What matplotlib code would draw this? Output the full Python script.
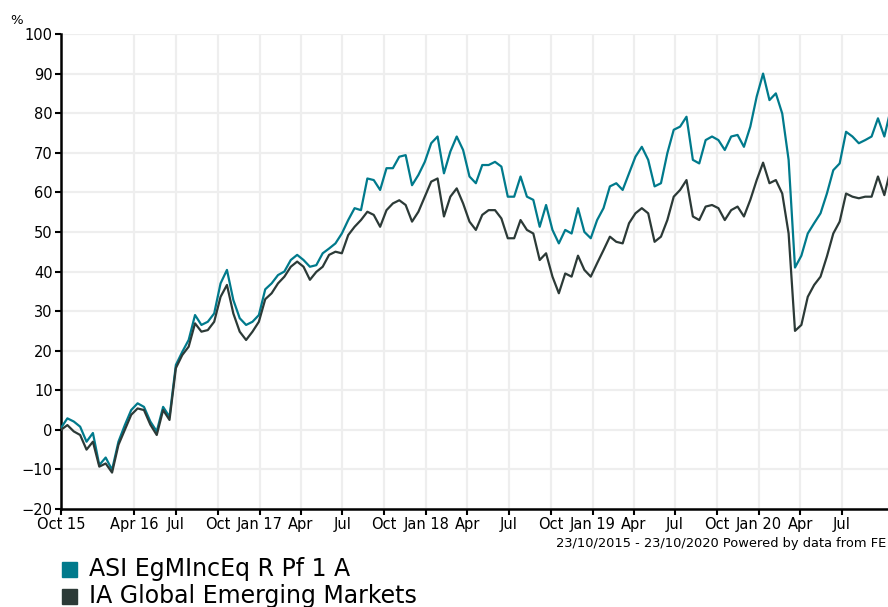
import matplotlib
matplotlib.use("Agg")
import matplotlib.pyplot as plt
import pandas as pd
from matplotlib.patches import Rectangle

# fortnightly readings, 23/10/2015 onwards (cumulative % growth)
dates = pd.date_range("2015-10-23", periods=131, freq="14D")

asi = [0.5, 2.9, 2.1, 0.8, -3, -0.8, -8.9, -7, -10.1, -3,
       1.2, 5, 6.7, 5.8, 2.1, -0.4, 5.8, 3.3, 16.4, 19.7,
       22.7, 29, 26.5, 27.3, 29.4, 37, 40.4, 32.8, 28.2, 26.5,
       27.3, 29, 35.5, 37, 39.1, 40, 42.9, 44.2, 42.9, 41.2,
       41.6, 44.6, 45.8, 47.1, 49.6, 53, 56, 55.5, 63.5, 63.1,
       60.6, 66.1, 66.1, 69, 69.4, 61.8, 64.4, 67.7, 72.4, 74.1,
       64.8, 70.3, 74.1, 70.7, 64, 62.3, 66.9, 66.9, 67.7, 66.5,
       58.9, 58.9, 64, 58.9, 58.1, 51.3, 56.8, 50.5, 47.1, 50.5,
       49.6, 56, 50, 48.4, 53, 56, 61.5, 62.3, 60.6, 64.8,
       69, 71.5, 68.2, 61.5, 62.3, 69.9, 75.8, 76.6, 79.1, 68.2,
       67.3, 73.2, 74.1, 73.2, 70.7, 74.1, 74.5, 71.5, 76.6, 84.2,
       90, 83.3, 85, 79.9, 68.2, 41, 44, 49.6, 52.2, 54.7,
       59.7, 65.6, 67.3, 75.3, 74.1, 72.4, 73.2, 74.1, 78.7, 74.1,
       81]

ia = [0, 1.2, -0.4, -1.3, -5, -3, -9.3, -8.5, -10.8, -3.8,
      0, 3.8, 5.4, 5, 1.3, -1.3, 5, 2.5, 15.6, 18.9,
      21, 26.9, 24.8, 25.2, 27.3, 33.6, 36.6, 29.4, 24.8, 22.7,
      24.8, 27.3, 33, 34.5, 37, 38.7, 41.2, 42.5, 41.2, 37.9,
      39.9, 41.2, 44.2, 45, 44.6, 49.2, 51.3, 53, 55.1, 54.3,
      51.3, 55.5, 57.2, 58, 56.8, 52.6, 55.1, 58.9, 62.7, 63.5,
      53.9, 58.9, 61, 57.2, 52.6, 50.5, 54.3, 55.5, 55.5, 53.4,
      48.4, 48.4, 53, 50.5, 49.6, 42.9, 44.6, 38.7, 34.5, 39.5,
      38.7, 44, 40.4, 38.7, 42.1, 45.4, 48.8, 47.5, 47.1, 52.2,
      54.7, 56, 54.7, 47.5, 48.8, 53, 58.9, 60.6, 63.1, 53.9,
      53, 56.4, 56.8, 56, 53, 55.5, 56.4, 53.9, 58.1, 63.1,
      67.5, 62.3, 63.1, 59.7, 49.6, 25, 26.5, 33.6, 36.6, 38.7,
      43.8, 49.6, 52.6, 59.7, 58.9, 58.5, 58.9, 58.9, 64, 59.3,
      66]

names = ["ASI EgMIncEq R Pf 1 A", "IA Global Emerging Markets"]
colours = ["#007a8c", "#2c3a37"]

tick_dates = ["2015-10-23", "2016-04-01", "2016-07-01", "2016-10-01", "2017-01-01",
              "2017-04-01", "2017-07-01", "2017-10-01", "2018-01-01", "2018-04-01",
              "2018-07-01", "2018-10-01", "2019-01-01", "2019-04-01", "2019-07-01",
              "2019-10-01", "2020-01-01", "2020-04-01", "2020-07-01"]
tick_labels = ["Oct 15", "Apr 16", "Jul", "Oct", "Jan 17", "Apr", "Jul", "Oct",
               "Jan 18", "Apr", "Jul", "Oct", "Jan 19", "Apr", "Jul", "Oct",
               "Jan 20", "Apr", "Jul"]

fig = plt.figure(figsize=(8.88, 6.07), dpi=100)
ax = fig.add_axes([61/888, 98/607, 827/888, 475/607])

ax.plot(dates, asi, color=colours[0], lw=1.6, zorder=3)
ax.plot(dates, ia, color=colours[1], lw=1.6, zorder=4)

ax.set_xlim(pd.Timestamp("2015-10-23"), pd.Timestamp("2020-10-10"))
ax.set_ylim(-20, 100)
ax.set_yticks(range(-20, 101, 10))
ax.set_xticks(pd.to_datetime(tick_dates))
ax.set_xticklabels(tick_labels)

ax.grid(True, color="#eeeeee", lw=1.6, zorder=0)
ax.set_axisbelow(True)
for s in ["top", "right"]:
    ax.spines[s].set_visible(False)
for s in ["left", "bottom"]:
    ax.spines[s].set_linewidth(1.8)
    ax.spines[s].set_color("black")
ax.tick_params(axis="both", direction="out", length=4, width=1.5,
               labelsize=10.5, colors="black", pad=2)

fig.text(10/888, 1 - 20/607, "%", fontsize=9.5, va="center", ha="left")
fig.text(886/888, 1 - 543/607, "23/10/2015 - 23/10/2020 Powered by data from FE",
         fontsize=9.4, va="center", ha="right")

# legend
for i, (nm, c) in enumerate(zip(names, colours)):
    yc = 569 + 27 * i
    fig.patches.append(Rectangle((62/888, 1 - (yc + 8)/607), 15/888, 15/607,
                                 transform=fig.transFigure, color=c, figure=fig))
    fig.text(89/888, 1 - yc/607, nm, fontsize=17, va="center", ha="left")

fig.savefig("out.png", dpi=100)
